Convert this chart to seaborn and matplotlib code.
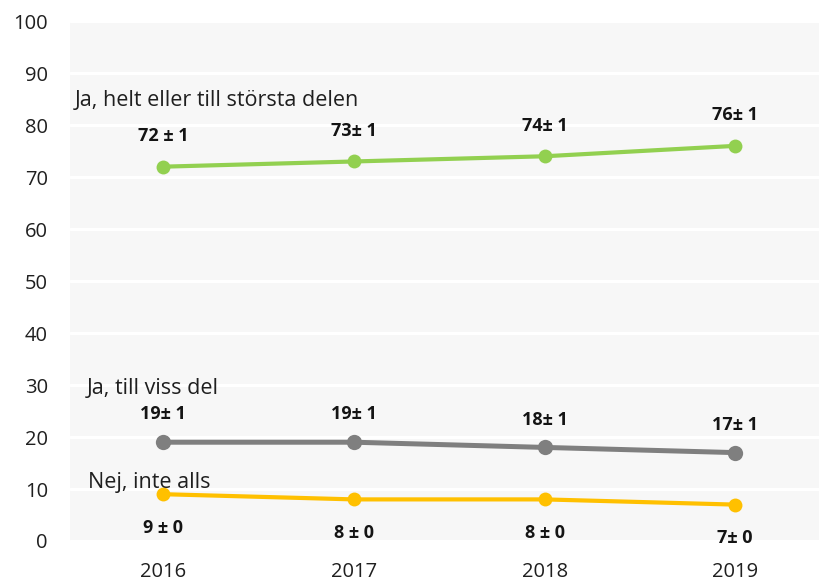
import pandas as pd
import seaborn as sns
import matplotlib.pyplot as plt

years = [2016, 2017, 2018, 2019]
series_names = ['Ja, helt eller till största delen', 'Ja, till viss del', 'Nej, inte alls']
helt = [72, 73, 74, 76]
viss = [19, 19, 18, 17]
nej = [9, 8, 8, 7]
helt_labels = ['72 ± 1', '73± 1', '74± 1', '76± 1']
viss_labels = ['19± 1', '19± 1', '18± 1', '17± 1']
nej_labels = ['9 ± 0', '8 ± 0', '8 ± 0', '7± 0']
colors = ['#92d050', '#7f7f7f', '#ffc000']

sns.set_theme(style="whitegrid")
plt.rcParams['font.family'] = ['Open Sans', 'DejaVu Sans']

data = pd.DataFrame({
    'year': years * 3,
    'value': helt + viss + nej,
    'series': [s for s in series_names for _ in years],
})

fig = plt.figure(figsize=(8.19, 5.86), dpi=100)
ax = fig.add_axes([0.0855, 0.0768, 0.9145, 0.8872])
ax.set_facecolor('#f7f7f7')

sns.lineplot(data=data, x='year', y='value', hue='series', hue_order=series_names,
             palette=colors, marker='o', markersize=10, markeredgewidth=0,
             linewidth=3.0, legend=False, ax=ax)
# the grey line is a bit heavier in the original
ax.lines[1].set_linewidth(3.6)
ax.lines[1].set_markersize(11)

ax.set_ylim(0, 100)
ax.set_xlim(2016 - 0.49, 2019 + 0.44)
ax.set_yticks(range(0, 101, 10))
ax.set_xticks(years)
ax.set_xticklabels([str(y) for y in years])
ax.grid(axis='y', color='white', linewidth=2.2)
ax.grid(axis='x', visible=False)
for s in ax.spines.values():
    s.set_visible(False)
ax.tick_params(axis='y', pad=16, labelsize=14.5, labelcolor='#1f1f1f', length=0)
ax.tick_params(axis='x', pad=15, labelsize=14.5, labelcolor='#1f1f1f', length=0)
ax.set(xlabel=None, ylabel=None)

# data labels
for vals, labs, dy in [(helt, helt_labels, 22), (viss, viss_labels, 20), (nej, nej_labels, -24)]:
    for x, v, t in zip(years, vals, labs):
        ax.annotate(t, (x, v), xytext=(0, dy), textcoords='offset points',
                    ha='center', va='center', fontsize=13, fontweight='bold', color='#141414')

# series names
ax.text(2016 - 0.465, 84.8, series_names[0], fontsize=15.5, color='#1f1f1f', va='center', ha='left')
ax.text(2016 - 0.40, 29.4, series_names[1], fontsize=15.5, color='#1f1f1f', va='center', ha='left')
ax.text(2016 - 0.395, 11.2, series_names[2], fontsize=15.5, color='#1f1f1f', va='center', ha='left')

fig.savefig('out.png', dpi=100)
